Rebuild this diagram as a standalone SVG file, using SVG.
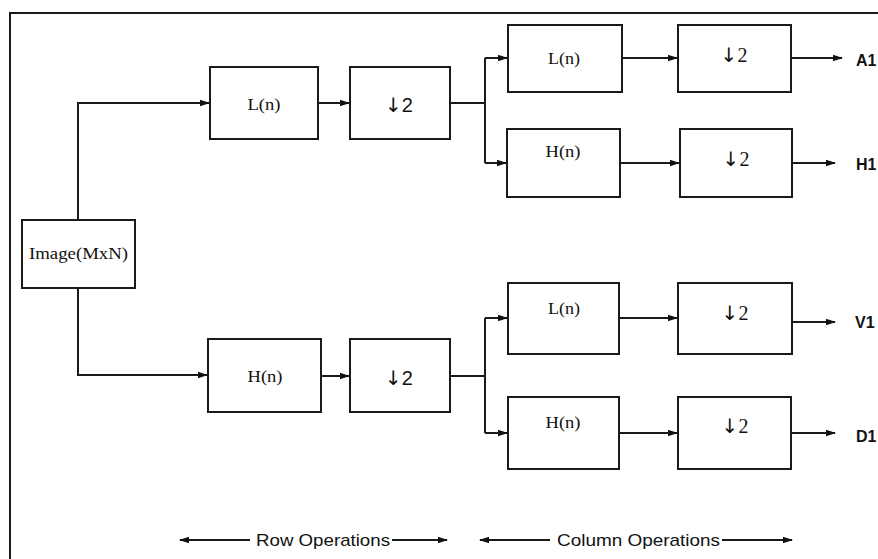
<svg xmlns="http://www.w3.org/2000/svg" width="878" height="559" viewBox="0 0 878 559">
<style>
.box{fill:#fff;stroke:#1a1a1a;stroke-width:2}
.ln{fill:none;stroke:#1a1a1a;stroke-width:2}
.ser{font-family:"Liberation Serif",serif;font-size:16px;fill:#111;text-anchor:middle}
.dn{font-family:"Liberation Sans",sans-serif;font-size:20px;fill:#111;text-anchor:middle}
.dns{font-family:"Liberation Serif",serif;font-size:20px;fill:#111;text-anchor:middle}
.ar{font-family:"DejaVu Sans",sans-serif;font-size:20px;fill:#111}
.out{font-family:"Liberation Sans",sans-serif;font-size:16px;font-weight:bold;fill:#111}
.op{font-family:"Liberation Sans",sans-serif;font-size:17px;fill:#111}
</style>
<defs>
<marker id="ah" markerWidth="10" markerHeight="8" refX="9" refY="4" orient="auto" markerUnits="userSpaceOnUse">
<path d="M0,0.8 L10,4 L0,7.2 Z" fill="#111"/>
</marker>
</defs>
<rect x="0" y="0" width="878" height="559" fill="#fff"/>
<path class="ln" d="M10,559 V13 H878"/>
<g id="connectors">
<path class="ln" d="M78,220 V103 H209" marker-end="url(#ah)"/>
<path class="ln" d="M78,288 V375 H207" marker-end="url(#ah)"/>
<path class="ln" d="M318,103 H349" marker-end="url(#ah)"/>
<path class="ln" d="M321,376 H349" marker-end="url(#ah)"/>
<path class="ln" d="M450,103 H485"/>
<path class="ln" d="M485,58 V163"/>
<path class="ln" d="M485,58 H507" marker-end="url(#ah)"/>
<path class="ln" d="M485,163 H506" marker-end="url(#ah)"/>
<path class="ln" d="M450,376 H485"/>
<path class="ln" d="M485,318 V433"/>
<path class="ln" d="M485,318 H507" marker-end="url(#ah)"/>
<path class="ln" d="M485,433 H507" marker-end="url(#ah)"/>
<path class="ln" d="M622,58 H677" marker-end="url(#ah)"/>
<path class="ln" d="M620,163 H679" marker-end="url(#ah)"/>
<path class="ln" d="M619,318 H677" marker-end="url(#ah)"/>
<path class="ln" d="M619,433 H677" marker-end="url(#ah)"/>
<path class="ln" d="M791,58 H842" marker-end="url(#ah)"/>
<path class="ln" d="M792,163 H835" marker-end="url(#ah)"/>
<path class="ln" d="M792,322 H835" marker-end="url(#ah)"/>
<path class="ln" d="M791,433 H835" marker-end="url(#ah)"/>
<path class="ln" d="M250,540 H180" marker-end="url(#ah)"/>
<path class="ln" d="M392,540 H447" marker-end="url(#ah)"/>
<path class="ln" d="M550,540 H480" marker-end="url(#ah)"/>
<path class="ln" d="M722,540 H792" marker-end="url(#ah)"/>
</g>
<g id="image">
<rect class="box" x="22" y="220" width="113" height="68"/>
<text class="ser" x="78.5" y="259" textLength="99" lengthAdjust="spacingAndGlyphs">Image(MxN)</text>
</g>
<g id="row-L">
<rect class="box" x="210" y="67" width="108" height="72"/>
<text class="ser" x="264" y="110" textLength="33" lengthAdjust="spacingAndGlyphs">L(n)</text>
</g>
<g id="row-L-down">
<rect class="box" x="350" y="67" width="100" height="72"/>
<text class="dn" x="399" y="112"><tspan class="ar">↓</tspan>2</text>
</g>
<g id="row-H">
<rect class="box" x="208" y="339" width="113" height="73"/>
<text class="ser" x="265" y="382" textLength="35" lengthAdjust="spacingAndGlyphs">H(n)</text>
</g>
<g id="row-H-down">
<rect class="box" x="350" y="339" width="100" height="73"/>
<text class="dn" x="399" y="385"><tspan class="ar">↓</tspan>2</text>
</g>
<g id="col-LL">
<rect class="box" x="508" y="25" width="114" height="67"/>
<text class="ser" x="564" y="64" textLength="32" lengthAdjust="spacingAndGlyphs">L(n)</text>
</g>
<g id="col-LH">
<rect class="box" x="507" y="129" width="113" height="68"/>
<text class="ser" x="563" y="157" textLength="35" lengthAdjust="spacingAndGlyphs">H(n)</text>
</g>
<g id="col-HL">
<rect class="box" x="508" y="283" width="111" height="71"/>
<text class="ser" x="564" y="314" textLength="32" lengthAdjust="spacingAndGlyphs">L(n)</text>
</g>
<g id="col-HH">
<rect class="box" x="508" y="397" width="111" height="72"/>
<text class="ser" x="563" y="428" textLength="35" lengthAdjust="spacingAndGlyphs">H(n)</text>
</g>
<g id="col-A-down">
<rect class="box" x="678" y="25" width="113" height="67"/>
<text class="dns" x="734" y="62"><tspan class="ar">↓</tspan>2</text>
</g>
<g id="col-H-down">
<rect class="box" x="680" y="129" width="112" height="68"/>
<text class="dns" x="736" y="166"><tspan class="ar">↓</tspan>2</text>
</g>
<g id="col-V-down">
<rect class="box" x="678" y="283" width="114" height="71"/>
<text class="dns" x="735" y="320"><tspan class="ar">↓</tspan>2</text>
</g>
<g id="col-D-down">
<rect class="box" x="678" y="397" width="113" height="72"/>
<text class="dns" x="735" y="433"><tspan class="ar">↓</tspan>2</text>
</g>
<g id="outputs">
<text class="out" x="856" y="66">A1</text>
<text class="out" x="856" y="170">H1</text>
<text class="out" x="855" y="328">V1</text>
<text class="out" x="856" y="442">D1</text>
</g>
<g id="axis-labels">
<text class="op" x="256" y="546" textLength="134" lengthAdjust="spacingAndGlyphs">Row Operations</text>
<text class="op" x="557" y="546" textLength="163" lengthAdjust="spacingAndGlyphs">Column Operations</text>
</g>
</svg>
